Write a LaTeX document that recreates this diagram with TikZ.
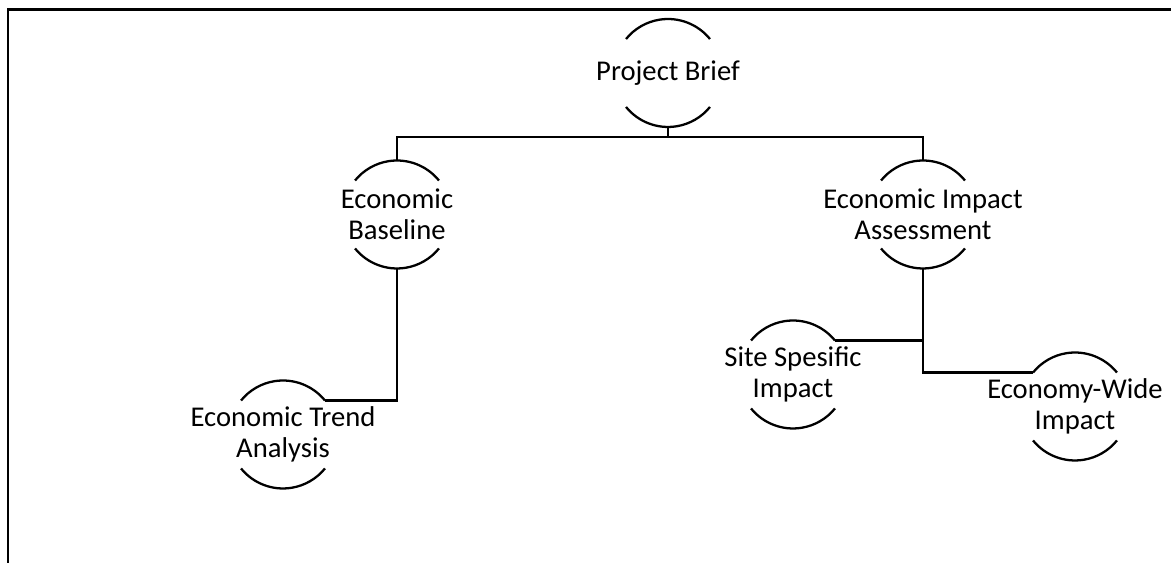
\documentclass[tikz,border=0pt]{standalone}
\usepackage{fontspec}
\setmainfont{Carlito}
\usetikzlibrary{positioning}

\tikzset{
    txt/.style={align=center, font=\fontsize{16.3}{17.6}\selectfont},
    bub/.style={circle, minimum size=2.16cm, inner sep=0pt, outer sep=0pt,
        label={[txt]center:#1}},
    link/.style={line width=1.6pt},
    rim/.style={line width=1.3pt},
}

\begin{document}
\begin{tikzpicture}[x=0.02cm, y=0.02cm]
    \useasboundingbox (0,0) rectangle (1171,563);
    % frame
    \draw[line width=1.7pt] (8,0) |- (1171,553);

    \node[bub={Project Brief}] (brief) at (668,490) {};
    \node[bub={Economic\\Baseline}] (base) at (397,348.5) {};
    \node[bub={Economic Impact\\Assessment}] (eia) at (923,348.5) {};
    \node[bub={Economic Trend\\Analysis}] (trend) at (283,128.5) {};
    \node[bub={Site Spesific\\Impact}] (site) at (793,188.5) {};
    \node[bub={Economy-Wide\\Impact}] (wide) at (1075,156.5) {};

    % open circles
    \foreach \n in {brief,base,eia,trend,site,wide} {
        \draw[rim] (\n.39) arc[start angle=39, end angle=141, radius=1.08cm];
        \draw[rim] (\n.-141) arc[start angle=-141, end angle=-39, radius=1.08cm];
    }

    % connectors
    \coordinate (bus) at (668,426);
    \draw[link] (brief.south) -- (bus);
    \draw[link] (base.north) |- (bus) -| (eia.north);
    \draw[link] (base.south) |- (trend.39);
    \draw[link] (eia.south) |- (wide.141);
    \draw[link] (site.39) -| (eia.south);
\end{tikzpicture}
\end{document}
